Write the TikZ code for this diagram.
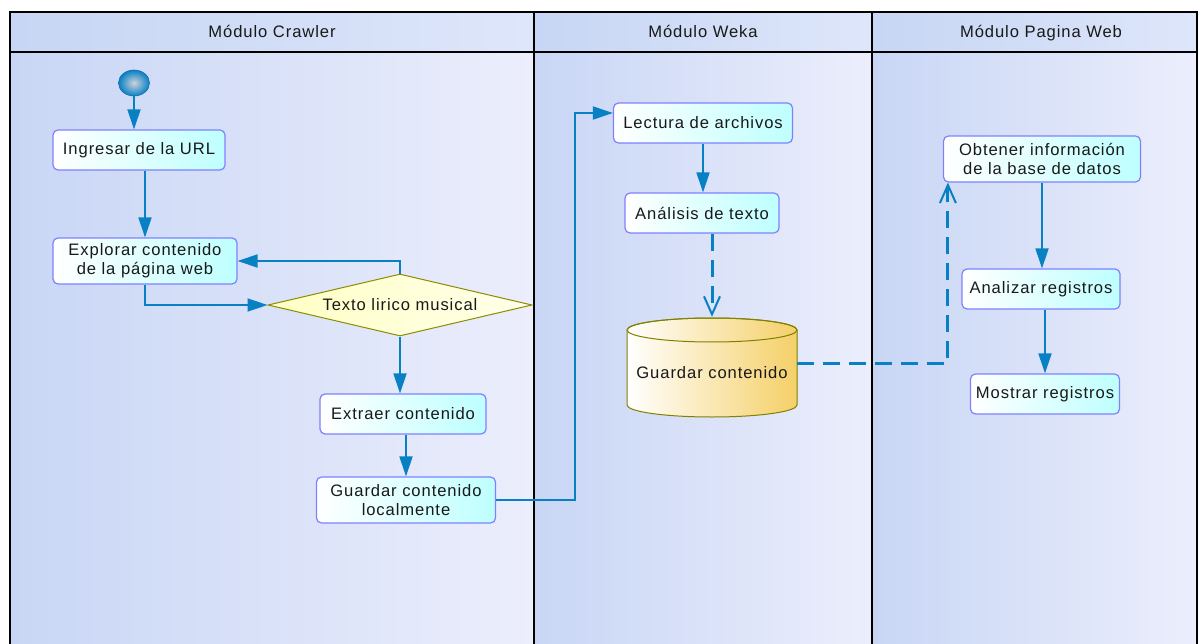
\documentclass[tikz,border=0pt]{standalone}
\usepackage{fontspec}
\newfontfamily\lbl{Liberation Sans}[LetterSpace=5.5]
\usetikzlibrary{arrows.meta,shapes.geometric,calc}

\definecolor{flowblue}{RGB}{8,128,196}
\definecolor{boxedge}{RGB}{128,128,255}
\definecolor{boxcyan}{RGB}{190,255,255}
\definecolor{laneL}{RGB}{200,214,245}
\definecolor{laneR}{RGB}{236,238,252}
\definecolor{headL}{RGB}{198,214,244}
\definecolor{headR}{RGB}{222,230,250}
\definecolor{decfill}{RGB}{255,255,196}
\definecolor{decedge}{RGB}{140,140,0}
\definecolor{dbgold}{RGB}{245,208,104}
\definecolor{dbedge}{RGB}{128,128,0}
\definecolor{dotcore}{RGB}{205,210,218}
\definecolor{dotedge}{RGB}{20,110,175}

\begin{document}
\begin{tikzpicture}[x=1pt,y=-1pt,
  every node/.style={font=\lbl\fontsize{16.6}{19}\selectfont, text=black!90},
  lanetitle/.style={text height=12pt, text depth=4pt, inner sep=0pt},
  actbox/.style={rounded corners=5pt, draw=boxedge, line width=1.2pt,
    left color=white, right color=boxcyan, minimum height=40pt,
    align=center, inner sep=2pt},
  decision/.style={diamond, aspect=4.26, draw=decedge, line width=1pt,
    left color=decfill, right color=decfill!35, minimum width=264pt,
    minimum height=62pt, inner sep=0pt},
  startdot/.style={ellipse, minimum width=31pt, minimum height=26pt,
    inner color=dotcore, outer color=flowblue, draw=dotedge, line width=0.6pt},
  flow/.style={draw=flowblue, line width=1.8pt,
    -{Triangle[length=20pt,width=13pt]}},
  dflow/.style={draw=flowblue, line width=3pt, dash pattern=on 17pt off 9pt,
    -{Straight Barb[length=18pt,width=16pt,line width=2pt]}},
  frame/.style={draw=black, line width=1.8pt}
]
\useasboundingbox (0,0) rectangle (1198,644);
\fill[white] (0,0) rectangle (1198,644);

% swimlane bodies and headers
\foreach \xa/\xb in {10/534, 534/872, 872/1197}{
  \shade[left color=laneL, right color=laneR] (\xa,52) rectangle (\xb,644);
  \shade[left color=headL, right color=headR] (\xa,12) rectangle (\xb,52);
}
\draw[frame] (10,644) -- (10,12) -- (1197,12) -- (1197,644);
\draw[frame] (10,52) -- (1197,52);
\draw[frame] (534,12) -- (534,644);
\draw[frame] (872,12) -- (872,644);

\node[lanetitle] (h1) at (272,34) {Módulo Crawler};
\node[lanetitle] (h2) at (703,34) {Módulo Weka};
\node[lanetitle] (h3) at (1041,34) {Módulo Pagina Web};

% storage cylinder
\path[left color=white, right color=dbgold, draw=dbedge, line width=1pt]
  (627,330) -- (627,405)
  arc[start angle=180, end angle=360, x radius=85pt, y radius=12pt]
  -- (797,330)
  arc[start angle=0, end angle=180, x radius=85pt, y radius=12pt] -- cycle;
\draw[dbedge, line width=1pt] (712,330) ellipse[x radius=85pt, y radius=12pt];

% Crawler lane
\node[startdot] (s0) at (134,83) {};
\node[actbox, minimum width=172pt] (n1) at (139,150) {Ingresar de la URL};
\node[actbox, minimum width=184pt, minimum height=46pt] (n2) at (145,261)
  {Explorar contenido\\de la página web};
\node[decision] (d1) at (400,305) {Texto lirico musical};
\node[actbox, minimum width=166pt] (n3) at (403,414) {Extraer contenido};
\node[actbox, minimum width=179pt, minimum height=46pt] (n4) at (406,500)
  {Guardar contenido\\localmente};

% Weka lane
\node[actbox, minimum width=179pt] (w1) at (703,123) {Lectura de archivos};
\node[actbox, minimum width=154pt] (w2) at (702,213) {Análisis de texto};
\node[minimum width=170pt, minimum height=100pt, inner sep=0pt] (db) at (712,367) {};
\node (dbl) at (712,373) {Guardar contenido};

% Web page lane
\node[actbox, minimum width=197pt, minimum height=46pt] (p1) at (1042,159)
  {Obtener información\\de la base de datos};
\node[actbox, minimum width=158pt] (p2) at (1041,289) {Analizar registros};
\node[actbox, minimum width=149pt] (p3) at (1045,394) {Mostrar registros};

\coordinate (bend) at (575,0);
\coordinate (lin) at ($(w1.west)+(0,-10)$);
\coordinate (dbout) at ($(db.east)+(0,-4)$);
\coordinate (pin) at ($(p1.south west)+(5,0)$);

% connectors
\draw[flow] (s0.south) -- (s0.south |- n1.north);
\draw[flow] (n2.north |- n1.south) -- (n2.north);
\draw[flow] (n2.south) |- (d1.west);
\draw[flow] (d1.north) |- (n2.east);
\draw[flow] (d1.south) -- (d1.south |- n3.north);
\draw[flow] (n4.north |- n3.south) -- (n4.north);
\draw[flow] (n4.east) -- (n4.east -| bend) |- (lin);
\draw[flow] (w1.south) -- (w1.south |- w2.north);
\draw[dflow] (w2.south -| db.north) -- (db.north);
\draw[dflow] (dbout) -| (pin);
\draw[flow] (p1.south) -- (p1.south |- p2.north);
\draw[flow] (p3.north |- p2.south) -- (p3.north);
\end{tikzpicture}
\end{document}
